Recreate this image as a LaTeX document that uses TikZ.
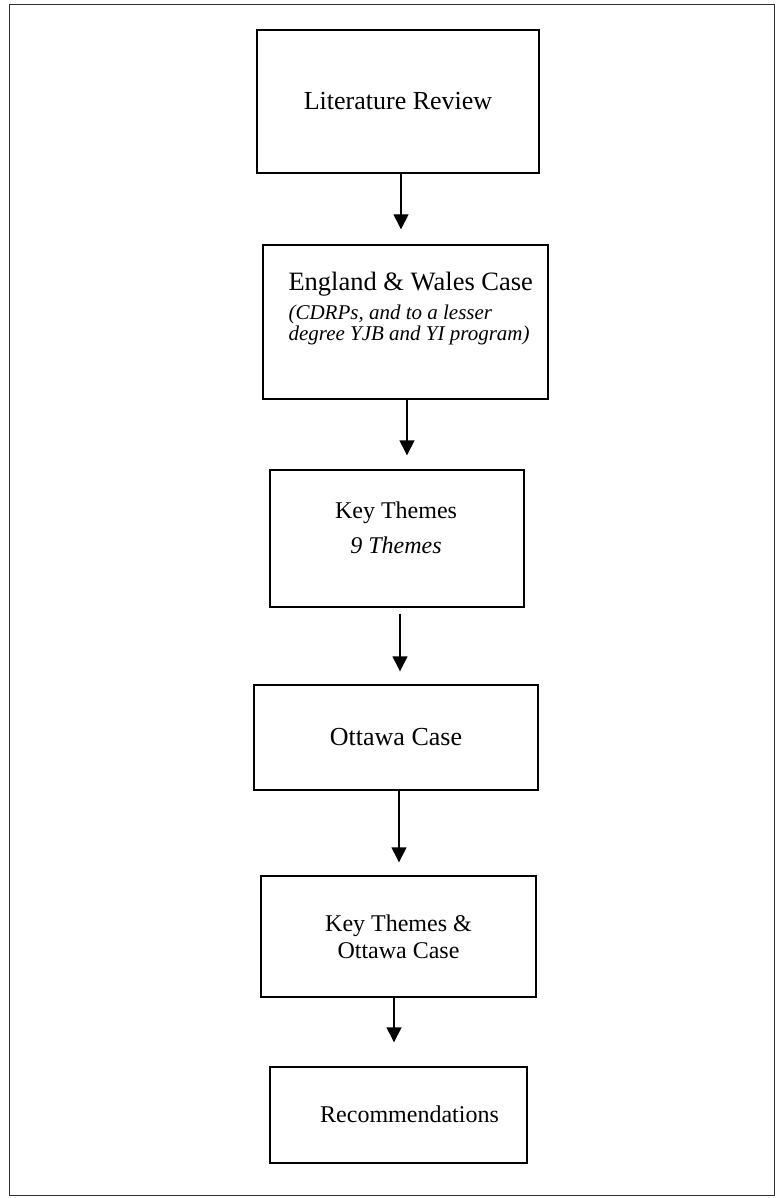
\documentclass[tikz,border=0pt]{standalone}
\usepackage{fontspec}
\setmainfont{Liberation Serif}
\usetikzlibrary{arrows.meta}

\begin{document}
\begin{tikzpicture}[x=1pt,y=-1pt,
  box/.style={draw,line width=1.4pt,inner sep=0pt},
  flow/.style={draw,line width=1.4pt,-{Triangle[width=15pt,length=15pt]}}]
% Page and frame
\useasboundingbox (0,0) rectangle (778,1198);
\path[draw,line width=0.7pt,black!80] (9,4) rectangle (774,1195);

% Boxes
\node[box,minimum width=282pt,minimum height=143pt,font=\fontsize{26}{30}\selectfont] (litrev) at (398,101.5) {Literature Review};
\node[box,minimum width=285pt,minimum height=154pt] (engwales) at (405.5,322) {};
\node[box,minimum width=254pt,minimum height=137pt] (keythemes) at (397,538.5) {};
\node[box,minimum width=284pt,minimum height=105pt,font=\fontsize{26}{30}\selectfont] (ottawa) at (396,737.5) {Ottawa Case};
\node[box,minimum width=275pt,minimum height=121pt,align=center,font=\fontsize{24}{27}\selectfont] (themesott) at (398.5,936.5) {Key Themes \&\\Ottawa Case};
\node[box,minimum width=257pt,minimum height=96pt] (recs) at (398.5,1115) {};

% Texts that sit off centre
\node[align=left,anchor=west,font=\fontsize{21}{21}\selectfont] (engtext) at (285,309) {{\fontsize{26.5}{30}\selectfont England \& Wales Case}\\[8pt]
  {\itshape (CDRPs, and to a lesser}\\
  {\itshape degree YJB and YI program)}};
\node[align=center,font=\fontsize{24}{28}\selectfont] (themestext) at (396,528) {Key Themes\\[7pt]
  {\itshape 9 Themes}};
\node[font=\fontsize{24}{27}\selectfont] (recstext) at (409.5,1114) {Recommendations};

% Arrows
\draw[flow,shorten >=15pt] ([xshift=3pt]litrev.south) -- ([xshift=3pt]litrev.south |- engwales.north);
\draw[flow,shorten >=14pt] ([xshift=1.5pt]engwales.south) -- ([xshift=1.5pt]engwales.south |- keythemes.north);
\draw[flow,shorten <=6pt,shorten >=13pt] ([xshift=3pt]keythemes.south) -- ([xshift=3pt]keythemes.south |- ottawa.north);
\draw[flow,shorten >=13pt] ([xshift=3pt]ottawa.south) -- ([xshift=3pt]ottawa.south |- themesott.north);
\draw[flow,shorten >=24pt] ([xshift=-4.5pt]themesott.south) -- ([xshift=-4.5pt]themesott.south |- recs.north);
\end{tikzpicture}
\end{document}
